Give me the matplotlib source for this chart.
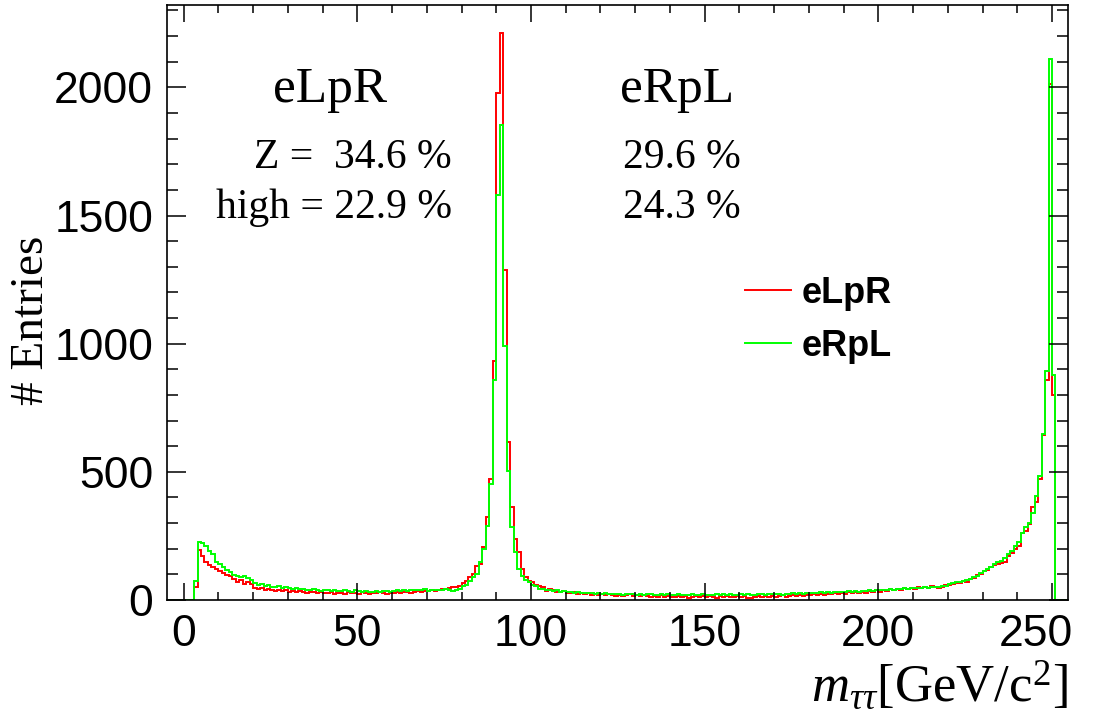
import numpy as np
import matplotlib
matplotlib.use("Agg")
import matplotlib.pyplot as plt
from matplotlib.lines import Line2D
from matplotlib.transforms import ScaledTranslation

# Binning: 1 GeV bins, histogram axis from -5 to 255 GeV
bin_lo, bin_hi, bin_width = -5, 255, 1
first_filled = 0  # counts below start at the 0 GeV bin

# Entries per bin starting at m = 0 GeV (bins [k, k+1))
elpr_counts = [
    0, 0, 0, 50, 195, 170, 150, 135, 128, 120,
    112, 105, 98, 92, 80, 72, 76, 64, 70, 62,
    48, 42, 46, 40, 44, 38, 36, 40, 34, 37,
    33, 35, 30, 36, 32, 28, 33, 30, 26, 31,
    29, 27, 32, 25, 29, 27, 24, 30, 26, 28,
    25, 30, 27, 24, 28, 26, 30, 27, 25, 29,
    27, 31, 28, 30, 33, 29, 32, 35, 31, 36,
    34, 38, 36, 40, 44, 42, 48, 52, 50, 56,
    65, 75, 88, 101, 134, 140, 205, 325, 473, 931,
    1977, 2211, 1289, 618, 362, 238, 186, 121, 88, 75,
    69, 60, 56, 50, 36, 42, 38, 33, 30, 34,
    28, 27, 31, 24, 27, 22, 26, 21, 25, 19,
    23, 18, 22, 20, 17, 21, 16, 19, 22, 15,
    18, 14, 20, 15, 12, 17, 13, 18, 11, 15,
    12, 10, 16, 11, 14, 9, 13, 15, 10, 14,
    11, 16, 12, 8, 14, 11, 15, 10, 13, 17,
    11, 14, 9, 7, 12, 15, 11, 16, 13, 17,
    12, 15, 18, 13, 16, 19, 14, 20, 17, 21,
    18, 22, 19, 24, 20, 25, 22, 27, 23, 28,
    25, 30, 26, 31, 28, 33, 29, 35, 32, 37,
    33, 39, 35, 41, 37, 43, 40, 45, 41, 47,
    44, 49, 46, 52, 48, 53, 50, 47, 51, 58,
    60, 62, 65, 66, 75, 72, 80, 85, 98, 100,
    112, 118, 128, 138, 140, 146, 150, 172, 185, 200,
    210, 260, 270, 297, 362, 381, 473, 642, 857, 2015,
    798,
]

erpl_counts = [
    0, 0, 0, 74, 228, 224, 210, 192, 178, 150,
    139, 128, 118, 108, 98, 95, 88, 92, 85, 76,
    66, 60, 62, 55, 58, 52, 50, 54, 47, 49,
    45, 43, 46, 41, 44, 40, 38, 42, 39, 36,
    40, 37, 35, 39, 36, 34, 38, 35, 33, 37,
    34, 32, 36, 33, 31, 35, 32, 34, 36, 33,
    35, 37, 34, 38, 36, 39, 37, 40, 38, 42,
    36, 39, 37, 40, 38, 42, 40, 36, 38, 43,
    56, 60, 75, 88, 100, 147, 199, 290, 453, 860,
    1582, 1853, 990, 505, 284, 186, 121, 95, 78, 69,
    60, 56, 43, 43, 39, 40, 36, 38, 33, 35,
    31, 33, 29, 30, 27, 29, 26, 28, 25, 27,
    24, 26, 23, 25, 22, 24, 21, 23, 25, 22,
    21, 23, 20, 22, 24, 21, 19, 22, 20, 23,
    21, 19, 22, 20, 18, 21, 23, 20, 19, 22,
    20, 18, 21, 23, 19, 22, 20, 24, 21, 19,
    22, 20, 23, 21, 19, 22, 24, 21, 23, 25,
    22, 24, 21, 25, 23, 26, 24, 27, 25, 28,
    26, 29, 27, 30, 28, 31, 29, 32, 30, 33,
    31, 34, 32, 35, 33, 36, 34, 37, 35, 39,
    37, 40, 38, 42, 40, 44, 41, 45, 43, 47,
    45, 48, 46, 50, 48, 52, 50, 49, 53, 56,
    62, 65, 69, 70, 73, 76, 82, 89, 95, 104,
    115, 122, 130, 141, 147, 152, 162, 180, 193, 212,
    225, 262, 284, 300, 340, 405, 483, 646, 893, 2110,
    876,
]

series_labels = ["eLpR", "eRpL"]
series_colors = ["#ff0000", "#00ff00"]
z_fraction = ["34.6 %", "29.6 %"]
high_fraction = ["22.9 %", "24.3 %"]

edges = np.arange(bin_lo, bin_hi + bin_width, bin_width)
nbins = len(edges) - 1


def full_hist(counts):
    h = np.zeros(nbins)
    start = first_filled - bin_lo
    h[start:start + len(counts)] = counts
    return h


hists = [full_hist(elpr_counts), full_hist(erpl_counts)]

serif = ["Liberation Serif", "DejaVu Serif"]
sans = ["Liberation Sans", "DejaVu Sans"]
plt.rcParams["mathtext.fontset"] = "custom"
plt.rcParams["mathtext.rm"] = "Liberation Serif"
plt.rcParams["mathtext.it"] = "Liberation Serif:italic"
plt.rcParams["font.family"] = sans

fig = plt.figure(figsize=(11.05, 7.2), dpi=100)
ax = fig.add_axes([0.1511, 0.1667, 0.8154, 0.8264])

for h, c in zip(hists, series_colors):
    ax.stairs(h, edges, color=c, lw=1.4, baseline=0)

ax.set_xlim(-4.8, 254.6)
ax.set_ylim(0, 1.05 * max(max(elpr_counts), max(erpl_counts)))

ax.set_xticks(np.arange(0, 251, 50))
ax.set_xticks(np.arange(-0, 255, 10), minor=True)
ax.set_yticks(np.arange(0, 2001, 500))
ax.set_yticks(np.arange(0, 2301, 100), minor=True)
ax.tick_params(which="both", direction="in", top=True, right=True,
               width=1.1, color="black", labelsize=32)
ax.tick_params(axis="x", which="major", length=12, pad=10)
ax.tick_params(axis="x", which="minor", length=6)
ax.tick_params(axis="y", which="major", length=14, pad=10)
ax.tick_params(axis="y", which="minor", length=8)
for s in ax.spines.values():
    s.set_linewidth(1.2)

# keep the last x label inside the frame
fig.canvas.draw()
last = ax.get_xticklabels()[-1]
last.set_transform(last.get_transform()
                   + ScaledTranslation(-16 / 100, 0, fig.dpi_scale_trans))

ax.set_ylabel("# Entries", family=serif, fontsize=34, va="center")
ax.yaxis.set_label_coords(-0.15, 0.47)
ax.set_xlabel(r"$m_{\tau\tau}$[GeV/c$^{2}$]", family=serif, fontsize=38,
              ha="right", va="top")
ax.xaxis.set_label_coords(1.0, -0.1)

# Polarisation headers and fractions
ax.text(0.181, 0.857, series_labels[0], transform=ax.transAxes,
        family=serif, fontsize=37, ha="center", va="center")
ax.text(0.566, 0.857, series_labels[1], transform=ax.transAxes,
        family=serif, fontsize=37, ha="center", va="center")
ax.text(0.316, 0.743, "Z =  " + z_fraction[0], transform=ax.transAxes,
        family=serif, fontsize=30, ha="right", va="center")
ax.text(0.316, 0.659, "high = " + high_fraction[0], transform=ax.transAxes,
        family=serif, fontsize=30, ha="right", va="center")
ax.text(0.571, 0.743, z_fraction[1], transform=ax.transAxes,
        family=serif, fontsize=30, ha="center", va="center")
ax.text(0.571, 0.659, high_fraction[1], transform=ax.transAxes,
        family=serif, fontsize=30, ha="center", va="center")

handles = [Line2D([], [], color=c, lw=1.4) for c in series_colors]
ax.legend(handles, series_labels, loc="upper left",
          bbox_to_anchor=(0.641, 0.545), frameon=False,
          prop={"family": sans, "weight": "bold", "size": 26},
          handlelength=1.3, handletextpad=0.28, labelspacing=0.5,
          borderpad=0, borderaxespad=0)

fig.savefig("out.png", dpi=100)
